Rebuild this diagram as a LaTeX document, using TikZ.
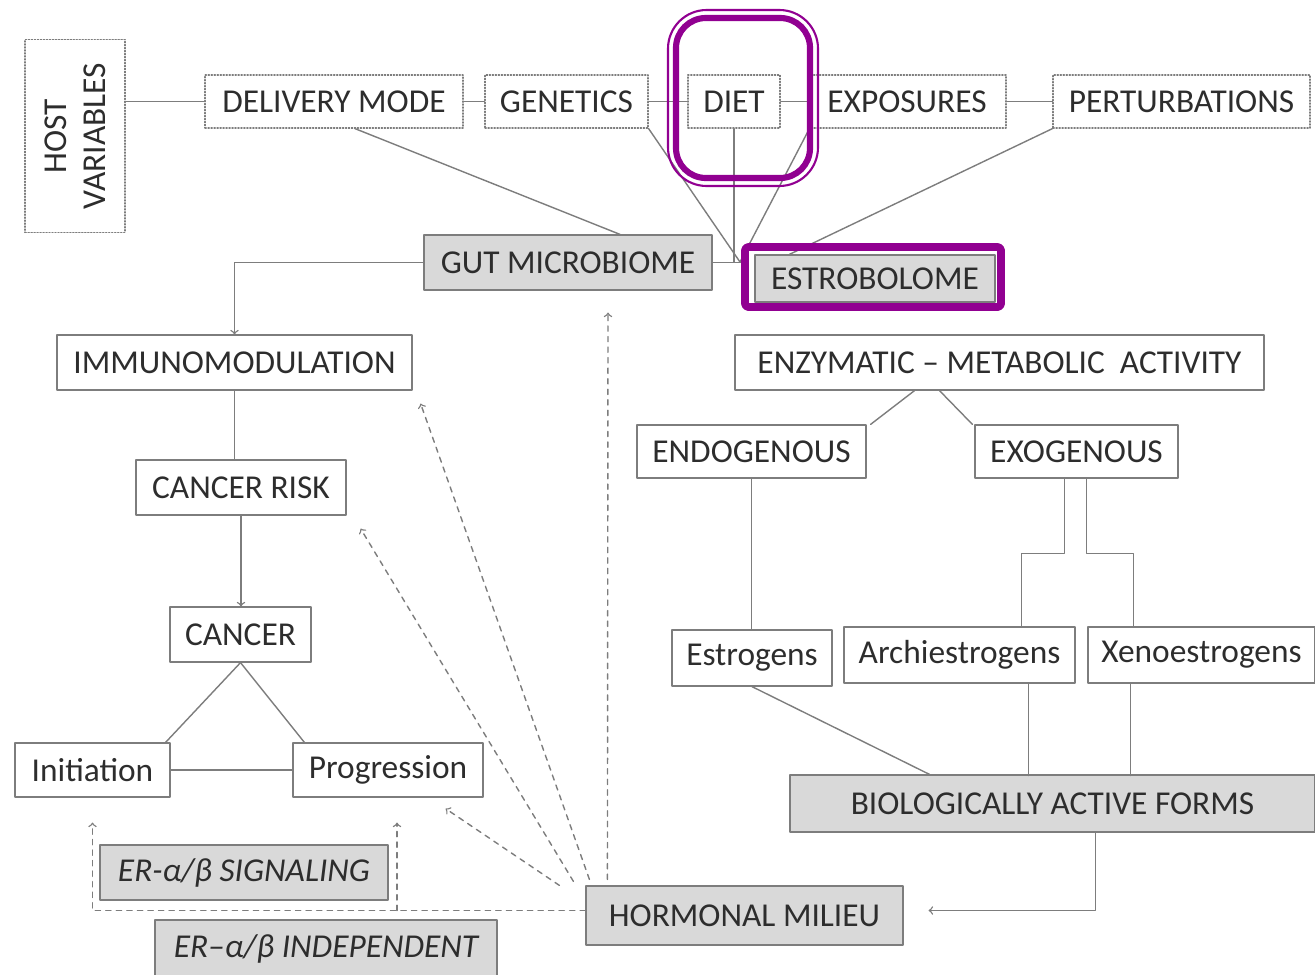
\documentclass[tikz,border=0pt]{standalone}
\usepackage{fontspec}
\setmainfont{Carlito}
\usetikzlibrary{arrows,calc}
\definecolor{boxgray}{RGB}{217,217,217}
\definecolor{linegray}{RGB}{125,125,125}
\definecolor{textgray}{RGB}{45,45,45}
\definecolor{hlpurple}{RGB}{145,0,145}

\begin{document}
\begin{tikzpicture}[x=0.02cm,y=-0.02cm,line cap=round,line join=round,
    box/.style={draw=linegray,line width=0.7pt,text=textgray,inner sep=0pt,font=\fontsize{19}{22}\selectfont},
    dotbox/.style={box,densely dotted},
    graybox/.style={box,fill=boxgray},
    conn/.style={draw=linegray,line width=0.8pt},
    dconn/.style={conn,dashed}]
		\useasboundingbox (0,0) rectangle (1315,974);
		% host variables row
		\node[dotbox,minimum width=2cm,minimum height=3.86cm] (hostvar) at (75,136) {};
		\node[text=textgray,font=\fontsize{19}{22}\selectfont,rotate=90,align=center] at (75,136) {HOST\\VARIABLES};
		\node[dotbox,minimum width=5.16cm,minimum height=1.06cm] (delivery) at (334,101.5) {DELIVERY MODE};
		\node[dotbox,minimum width=3.26cm,minimum height=1.06cm] (genetics) at (566.5,101.5) {GENETICS};
		\node[dotbox,minimum width=1.84cm,minimum height=1.06cm] (diet) at (734,101.5) {DIET};
		\node[dotbox,minimum width=3.96cm,minimum height=1.06cm] (exposures) at (907,101.5) {EXPOSURES};
		\node[dotbox,minimum width=5.14cm,minimum height=1.06cm] (perturb) at (1181.5,101.5) {PERTURBATIONS};
		\draw[conn] (delivery.west) -- (delivery.west -| hostvar.east);
		\draw[conn] (delivery.east) -- (genetics.west);
		\draw[conn] (genetics.east) -- (diet.west);
		\draw[conn] (diet.east) -- (exposures.west);
		\draw[conn] (exposures.east) -- (perturb.west);
		% microbiome
		\node[graybox,minimum width=5.76cm,minimum height=1.1cm] (gut) at (568,262.5) {GUT MICROBIOME};
		\node[graybox,minimum width=4.8cm,minimum height=0.94cm] (estrob) at (875,278.5) {ESTROBOLOME};
		\coordinate (hub) at (740,262);
		\draw[conn] ($(delivery.south)+(21,0)$) -- ($(gut.north)+(52,0)$);
		\draw[conn] (genetics.south east) -- (hub);
		\draw[conn] (diet.south) -- (diet.south |- hub);
		\draw[conn] ($(exposures.south west)+(2,0)$) -- (hub);
		\draw[conn] (perturb.south west) -- ($(estrob.north west)+(35,0)$);
		\draw[conn,->] (gut.east) -- ($(estrob.west |- gut.east)+(-8,0)$);
		% highlights
		\draw[hlpurple,line width=1.2pt,rounded corners=22] (668,10) rectangle (818,186);
		\draw[hlpurple,line width=3.5pt,rounded corners=17] (676,18) rectangle (810,178);
		\draw[hlpurple,line width=4.5pt,rounded corners=2] (745,247) rectangle (1001,307);
		% left column
		\node[box,minimum width=7.1cm,minimum height=1.1cm] (immuno) at (234.5,362.5) {IMMUNOMODULATION};
		\node[box,minimum width=4.2cm,minimum height=1.1cm] (risk) at (241,487.5) {CANCER RISK};
		\node[box,minimum width=2.82cm,minimum height=1.1cm] (cancer) at (240.5,634.5) {CANCER};
		\node[box,minimum width=3.1cm,minimum height=1.08cm] (init) at (92.5,770) {Initiation};
		\node[box,minimum width=3.8cm,minimum height=1.08cm] (progr) at (388,770) {Progression};
		\node[graybox,minimum width=5.76cm,minimum height=1.1cm,font=\fontsize{19}{22}\selectfont\itshape] (ersig) at (244,872.5) {ER-α/β SIGNALING};
		\node[graybox,minimum width=6.84cm,minimum height=1.16cm,font=\fontsize{19}{22}\selectfont\itshape] (erind) at (326,949) {ER--α/β INDEPENDENT};
		\draw[conn,->] (gut.west) -| (immuno.north);
		\draw[conn] (immuno.south) -- (immuno.south |- risk.north);
		\draw[conn,->] (risk.south) -- (risk.south |- cancer.north);
		\draw[conn] (cancer.south) -- ($(init.north east)+(-5,0)$);
		\draw[conn] (cancer.south) -- ($(progr.north west)+(12,0)$);
		\draw[conn] (init.east) -- (progr.west);
		% hormonal milieu
		\node[graybox,minimum width=6.34cm,minimum height=1.18cm] (hormonal) at (744.5,915.5) {HORMONAL MILIEU};
		\draw[dconn,->,shorten >=0.5cm] ($(hormonal.west)+(0,-5)$) -| (init.south);
		\draw[dconn,->,shorten >=0.5cm] ($(hormonal.west -| progr.south)+(9,-5)$) -- ($(progr.south)+(9,0)$);
		\draw[dconn,->] ($(hormonal.north west)+(-26,0)$) -- ($(progr.south east)+(-38,11)$);
		\draw[dconn,->] ($(hormonal.north west)+(-12,-4)$) -- ($(risk.south east)+(14,13)$);
		\draw[dconn,->] ($(hormonal.north west)+(4,-6)$) -- ($(immuno.south east)+(8,13)$);
		\draw[dconn,->] ($(hormonal.north west)+(22,-6)$) -- ($(gut.south)+(40,22)$);
		% right column
		\node[box,minimum width=10.58cm,minimum height=1.1cm] (enzym) at (999.5,362.5) {ENZYMATIC -- METABOLIC\ \ ACTIVITY};
		\node[box,minimum width=4.58cm,minimum height=1.06cm] (endo) at (751.5,451.5) {ENDOGENOUS};
		\node[box,minimum width=4.06cm,minimum height=1.06cm] (exo) at (1076.5,451.5) {EXOGENOUS};
		\node[box,minimum width=3.2cm,minimum height=1.12cm] (estrogens) at (752,658) {Estrogens};
		\node[box,minimum width=4.62cm,minimum height=1.12cm] (archi) at (959.5,655) {Archiestrogens};
		\node[box,minimum width=4.54cm,minimum height=1.12cm] (xeno) at (1201.5,655) {Xenoestrogens};
		\node[graybox,minimum width=10.5cm,minimum height=1.14cm] (bioact) at (1052.5,803.5) {BIOLOGICALLY ACTIVE FORMS};
		\draw[conn] ($(enzym.south)+(-85,0)$) -- ($(endo.north east)+(4,0)$);
		\draw[conn] ($(enzym.south)+(-60,0)$) -- ($(exo.north west)+(-2,0)$);
		\draw[conn] (endo.south) -- (endo.south |- estrogens.north);
		\draw[conn] ($(exo.south)+(-12,0)$) -- ++(0,75) -| ($(archi.north)+(62,0)$);
		\draw[conn] ($(exo.south)+(10,0)$) -- ++(0,75) -| ($(xeno.north)+(-68,0)$);
		\draw[conn] (estrogens.south) -- ($(bioact.north)+(-123,0)$);
		\draw[conn] ($(archi.south)+(69,0)$) -- ++(0,92);
		\draw[conn] ($(xeno.south)+(-71,0)$) -- ++(0,92);
		\draw[conn,->] ($(bioact.south)+(43,0)$) |- ($(hormonal.east)+(25,-5)$);
	\end{tikzpicture}
\end{document}
